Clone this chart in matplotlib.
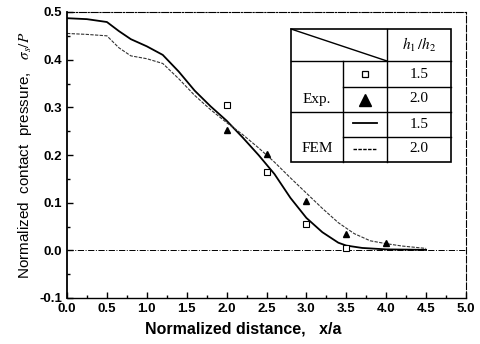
import matplotlib
matplotlib.use("Agg")
import matplotlib.pyplot as plt
import numpy as np

# FEM curves
x_fem15 = [0, 0.25, 0.5, 0.65, 0.8, 1.0, 1.2, 1.4, 1.6, 1.8, 2.0, 2.2, 2.4, 2.6,
           2.8, 3.0, 3.2, 3.4, 3.5, 3.7, 4.0, 4.5]
y_fem15 = [0.487, 0.485, 0.479, 0.46, 0.443, 0.428, 0.41, 0.375, 0.335, 0.302,
           0.272, 0.237, 0.20, 0.16, 0.11, 0.068, 0.038, 0.016, 0.010, 0.005,
           0.002, 0.001]
x_fem20 = [0, 0.25, 0.5, 0.65, 0.8, 1.0, 1.2, 1.4, 1.6, 1.8, 2.0, 2.2, 2.4, 2.6,
           2.8, 3.0, 3.2, 3.4, 3.6, 3.8, 4.0, 4.2, 4.5]
y_fem20 = [0.455, 0.453, 0.450, 0.425, 0.408, 0.402, 0.392, 0.36, 0.325, 0.295,
           0.268, 0.243, 0.215, 0.185, 0.152, 0.12, 0.088, 0.058, 0.035, 0.02,
           0.014, 0.009, 0.004]

# experimental points
x_exp15 = [2.0, 2.5, 3.0, 3.5]
y_exp15 = [0.305, 0.165, 0.055, 0.004]
x_exp20 = [2.0, 2.5, 3.0, 3.5, 4.0]
y_exp20 = [0.252, 0.203, 0.103, 0.035, 0.015]

plt.rcParams['mathtext.fontset'] = 'stix'

fig = plt.figure(figsize=(4.8, 3.44), dpi=100)
ax = fig.add_axes([67/480, 46/344, 399/480, 286/344])

ax.axhline(0, color='k', lw=0.7, ls='-.', zorder=1)
ax.plot(x_fem15, y_fem15, color='k', lw=1.3)
ax.plot(x_fem20, y_fem20, color='#333333', lw=0.8, ls=(0, (3, 1.2)))
ax.plot(x_exp15, y_exp15, 's', mfc='white', mec='k', ms=4.5, mew=0.8)
ax.plot(x_exp20, y_exp20, '^', color='k', ms=4.5)

ax.set_xlim(0, 5)
ax.set_ylim(-0.1, 0.5)
ax.set_xticks(np.arange(0, 5.01, 0.5))
ax.set_yticks(np.arange(-0.1, 0.51, 0.1))
ax.set_xticks(np.arange(0, 5.01, 0.25), minor=True)
ax.set_yticks(np.arange(-0.1, 0.51, 0.05), minor=True)
ax.tick_params(which='both', direction='in', length=4, width=1)
ax.tick_params(which='minor', length=2.5)
ax.set_xticklabels(['%.1f' % v for v in np.arange(0, 5.01, 0.5)],
                   fontweight='bold', fontsize=9.5, family='Liberation Sans')
ax.set_yticklabels(['%.1f' % v for v in np.arange(-0.1, 0.51, 0.1)],
                   fontweight='bold', fontsize=9.5, family='Liberation Sans')

ax.spines['top'].set_linestyle('-.')
ax.spines['top'].set_linewidth(0.8)
ax.spines['right'].set_linestyle((0, (6, 2)))
ax.spines['right'].set_linewidth(0.8)
ax.spines['left'].set_linewidth(1.3)
ax.spines['bottom'].set_linewidth(1.0)

ax.set_xlabel('Normalized distance,   x/a', fontweight='bold', fontsize=11.5,
              family='Liberation Sans')
ax.xaxis.set_label_coords(0.441, -0.082)
ax.set_ylabel(r'Normalized  contact  pressure,   $\sigma_s/P$', fontsize=11,
              family='Liberation Sans', labelpad=4)

# legend drawn as a table
def ax_pt(px, py):
    return (px - 67) / 399, (298 - py) / 286

cols = [291, 343, 387, 451]
rows = [29, 61, 87, 112, 137, 162]
tr = ax.transAxes
lk = dict(color='k', lw=1.0, transform=tr, clip_on=False)
x0, y0 = ax_pt(cols[0], rows[0])
x1, y1 = ax_pt(cols[-1], rows[-1])
ax.add_patch(plt.Rectangle((x0, y1), x1 - x0, y0 - y1, transform=tr,
                           fc='white', ec='k', lw=1.2, zorder=5))
# horizontal lines
for r, c_start in [(61, 291), (87, 343), (112, 291), (137, 343)]:
    a = ax_pt(c_start, r)
    b = ax_pt(451, r)
    ax.plot([a[0], b[0]], [a[1], b[1]], zorder=6, **lk)
# vertical lines
for c, r_start in [(343, 61), (387, 29)]:
    a = ax_pt(c, r_start)
    b = ax_pt(c, 162)
    ax.plot([a[0], b[0]], [a[1], b[1]], zorder=6, **lk)
# diagonal
a = ax_pt(291, 29)
b = ax_pt(387, 61)
ax.plot([a[0], b[0]], [a[1], b[1]], zorder=6, **lk)

tk = dict(transform=tr, ha='center', va='center', family='Liberation Serif',
          fontsize=11, zorder=7)
ax.text(*ax_pt(419, 45), r'$h_1\,/h_2$', **tk)
ax.text(*ax_pt(317, 99), 'Exp.', **tk)
ax.text(*ax_pt(317, 149), 'FEM', **tk)
for py, lab in zip([74, 99, 124, 149], ['1.5', '2.0', '1.5', '2.0']):
    ax.text(*ax_pt(419, py), lab, **tk)
ax.plot(*ax_pt(365, 74), 's', mfc='white', mec='k', ms=5, mew=0.9,
        transform=tr, zorder=7, clip_on=False)
ax.plot(*ax_pt(365, 100), '^', color='k', ms=8, transform=tr, zorder=7,
        clip_on=False)
a = ax_pt(353, 123)
b = ax_pt(377, 123)
ax.plot([a[0], b[0]], [a[1], b[1]], color='k', lw=1.3, transform=tr, zorder=7)
a = ax_pt(353, 149)
b = ax_pt(377, 149)
ax.plot([a[0], b[0]], [a[1], b[1]], color='k', lw=1.0, ls=(0, (2.5, 1)),
        transform=tr, zorder=7)

fig.savefig('out.png', dpi=100)
